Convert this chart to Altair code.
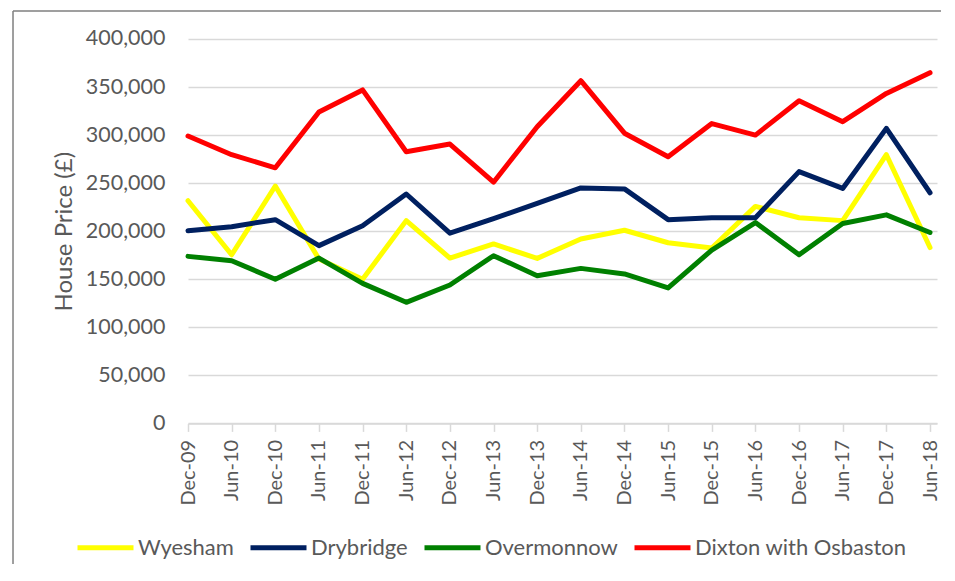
import altair as alt
import pandas as pd

periods = ["Dec-09", "Jun-10", "Dec-10", "Jun-11", "Dec-11", "Jun-12", "Dec-12", "Jun-13", "Dec-13",
           "Jun-14", "Dec-14", "Jun-15", "Dec-15", "Jun-16", "Dec-16", "Jun-17", "Dec-17", "Jun-18"]

wyesham = [231700, 175500, 247000, 171000, 150000, 211000, 172000, 186700, 171700,
           191900, 201000, 188000, 182500, 225800, 214000, 211000, 279600, 183000]
drybridge = [200500, 204700, 212000, 185000, 205700, 238700, 198000, 213000, 229000,
             245000, 244000, 212000, 214000, 214000, 262000, 244500, 307000, 240000]
overmonnow = [173800, 169300, 150000, 172000, 145700, 126000, 144000, 174500, 153700,
              161300, 155500, 141000, 180400, 209000, 175500, 208000, 217000, 198700]
dixton = [299000, 279600, 266000, 324000, 347000, 282700, 290700, 251000, 308700,
          356600, 302000, 277500, 312000, 300000, 335800, 314000, 343400, 365000]

series_names = ["Wyesham", "Drybridge", "Overmonnow", "Dixton with Osbaston"]
series_colors = ["#FFFF00", "#002060", "#008000", "#FF0000"]
series_values = [wyesham, drybridge, overmonnow, dixton]

rows = []
for name, vals in zip(series_names, series_values):
    for i, (p, v) in enumerate(zip(periods, vals)):
        rows.append({"series": name, "idx": i, "period": p, "price": v})
df = pd.DataFrame(rows)

FONT = "Lato"
TXT = "#595959"
GRID = "#D9D9D9"

label_array = "[" + ",".join("'" + p + "'" for p in periods) + "]"

lines = alt.Chart(df).mark_line(strokeWidth=5, strokeCap="round", strokeJoin="round").encode(
    x=alt.X("idx:Q",
            scale=alt.Scale(domain=[0, 17.16], nice=False, zero=False),
            axis=alt.Axis(values=list(range(len(periods))),
                          labelExpr=label_array + "[datum.value]",
                          labelAngle=-90, labelAlign="right", labelBaseline="middle",
                          grid=False, ticks=True, tickSize=8, tickColor=GRID, tickWidth=1.5,
                          domain=True, domainColor=GRID, domainWidth=1.5,
                          labelPadding=8, labelFont=FONT, labelFontSize=20, labelColor=TXT,
                          title=None)),
    y=alt.Y("price:Q",
            scale=alt.Scale(domain=[0, 400000], nice=False),
            axis=alt.Axis(values=list(range(0, 400001, 50000)),
                          labelExpr="format(datum.value, ',')",
                          grid=True, gridColor=GRID, gridWidth=1.5,
                          ticks=False, tickSize=0, domain=False,
                          labelPadding=23, labelFont=FONT, labelFontSize=21.5, labelColor=TXT,
                          title="House Price (£)", titleFont=FONT, titleFontSize=24,
                          titleColor=TXT, titleFontWeight="normal", titlePadding=9)),
    color=alt.Color("series:N",
                    scale=alt.Scale(domain=series_names, range=series_colors),
                    legend=alt.Legend(orient="none", legendX=-113, legendY=478,
                                      direction="horizontal", title=None,
                                      symbolType="stroke", symbolSize=3136,
                                      symbolStrokeWidth=5, labelOffset=2,
                                      columnPadding=6, labelLimit=400,
                                      labelFont=FONT, labelFontSize=22, labelColor=TXT)),
    order=alt.Order("idx:Q"),
)

frame_df = pd.DataFrame({"a": [0]})
frame_left = alt.Chart(frame_df).mark_rule(color="#7F7F7F", strokeWidth=1.5).encode(
    x=alt.value(-175), y=alt.value(-28), y2=alt.value(525))
frame_top = alt.Chart(frame_df).mark_rule(color="#7F7F7F", strokeWidth=1.5).encode(
    x=alt.value(-175), x2=alt.value(753), y=alt.value(-28))

chart = alt.layer(frame_left, frame_top, lines).properties(
    width=749, height=384.4,
    padding={"left": 4, "top": 2, "right": 2, "bottom": 0},
    background="white",
).configure_view(stroke=None)

chart.save("out.html", embed_options={"renderer": "svg", "actions": False})
